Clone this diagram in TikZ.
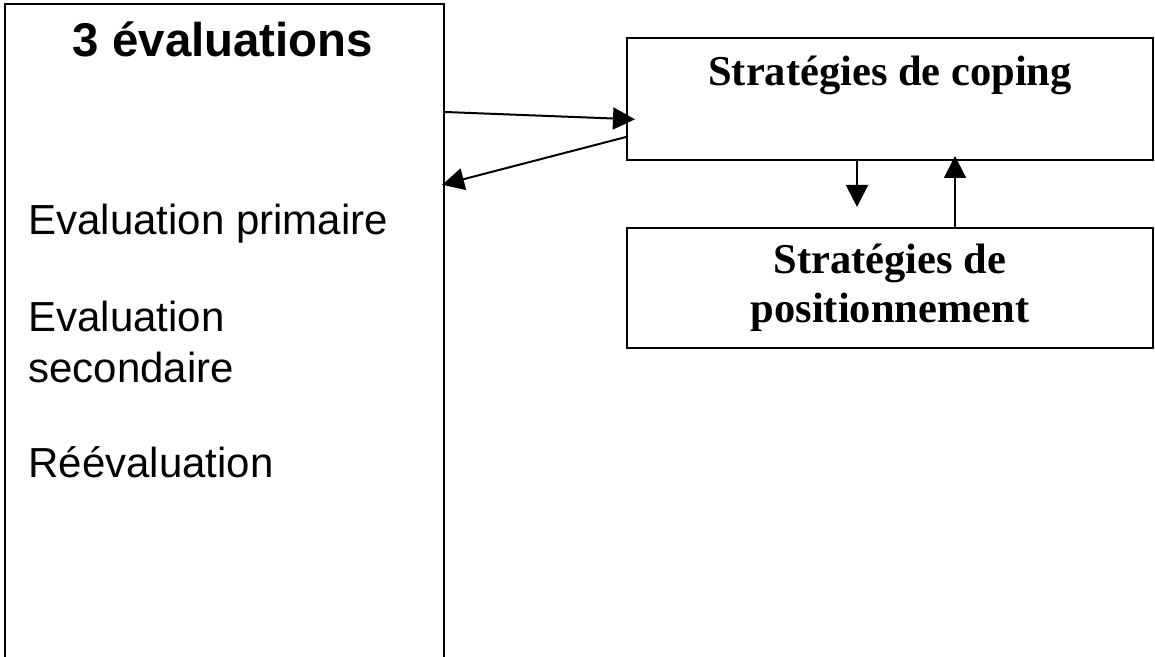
\documentclass[tikz,border=0pt]{standalone}
\usepackage{fontspec}
\setmainfont{Liberation Serif}
\setsansfont{Liberation Sans}
\usetikzlibrary{positioning,arrows.meta}

\tikzset{
  box/.style={draw, line width=1pt, inner sep=0pt},
  arr/.style={line width=1pt, -{Triangle[length=11pt,width=11pt]}},
  strat/.style={font=\fontsize{21.25}{24.5}\selectfont\bfseries, align=center},
  evaltxt/.style={font=\sffamily\fontsize{21}{25}\selectfont, align=left, anchor=base west, inner sep=0pt},
}

\begin{document}
\begin{tikzpicture}[x=0.5pt, y=-0.5pt]
    \path[use as bounding box, clip] (0,0) rectangle (1155,657);

    % Boxes
    \node[box, minimum width=219.5pt, minimum height=358pt] (eval) at (224.5,362) {};
    \node[box, minimum width=263pt, minimum height=61pt] (coping) at (890,99) {};
    \node[box, strat, minimum width=263pt, minimum height=60pt] (pos) at (890,288) {Stratégies de\\positionnement};

    % Texts
    \node[font=\sffamily\bfseries\fontsize{23.7}{28}\selectfont, anchor=base, inner sep=0pt] (title) at (223,57) {3 évaluations};
    \node[evaltxt] (prim) at (28,235) {Evaluation primaire};
    \node[evaltxt] (sec) at (28,382) {Evaluation\\secondaire};
    \node[evaltxt] (reev) at (28,477) {Réévaluation};
    \node[strat, anchor=base, inner sep=0pt] (copingtxt) at (890,86) {Stratégies de coping};

    % Arrows
    \coordinate (downtip) at (857,207);
    \draw[arr, shorten >=-4.5pt] (eval.east |- 0,112) -- (coping.west |- 0,119);
    \draw[arr, shorten >=-1.5pt] (coping.west |- 0,137) -- (eval.east |- 0,184);
    \draw[arr] (coping.south -| 857,0) -- (downtip);
    \draw[arr, shorten >=-2.5pt] (pos.north -| 955,0) -- (coping.south -| 955,0);
\end{tikzpicture}
\end{document}
